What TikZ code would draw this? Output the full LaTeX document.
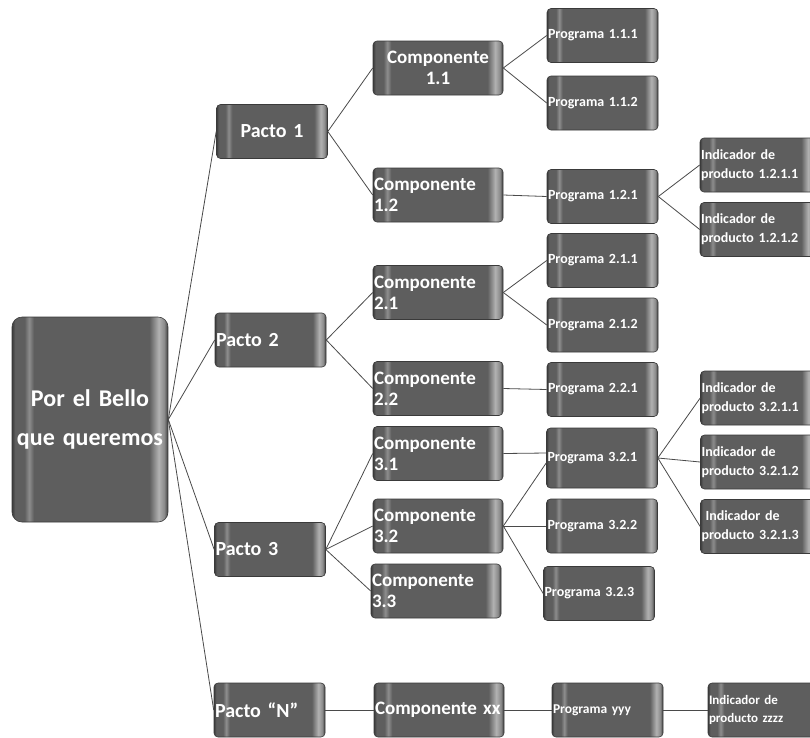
\documentclass[tikz,border=0pt]{standalone}
\usepackage{fontspec}
\setmainfont{Carlito}
\definecolor{bxedge}{HTML}{3A3A3A}
\definecolor{bxbody}{HTML}{5E5E5E}
\definecolor{bxhl}{HTML}{8E8E8E}
\definecolor{bxhr}{HTML}{B2B2B2}
\definecolor{bxhm}{HTML}{8A8A8A}
\definecolor{lnk}{HTML}{4A4A4A}
\pgfdeclarehorizontalshading{boxshade}{100bp}{color(0bp)=(bxedge); color(25bp)=(bxedge); color(26bp)=(bxbody); color(29bp)=(bxbody); color(30.5bp)=(bxhl); color(32bp)=(bxbody); color(69bp)=(bxbody); color(72bp)=(bxhr); color(73.8bp)=(bxhm); color(75bp)=(bxedge); color(100bp)=(bxedge)}
\begin{document}
\begin{tikzpicture}[x=1pt,y=-1pt,
  box/.style={rectangle, rounded corners=4pt, draw=bxedge, line width=0.6pt, shade, shading=boxshade, text=white, inner xsep=1pt, inner ysep=0pt, minimum height=54pt, align=left},
  rootbox/.style={box, text width=154pt, minimum height=205pt, align=center, rounded corners=10pt, font=\fontsize{24}{39}\selectfont\bfseries},
  pacto/.style={box, text width=109pt, font=\fontsize{20}{24}\selectfont\bfseries},
  comp/.style={box, text width=128pt, font=\fontsize{19}{21}\selectfont\bfseries},
  prog/.style={box, text width=109pt, font=\fontsize{14}{17}\selectfont\bfseries},
  ind/.style={box, text width=113pt, font=\fontsize{14}{19}\selectfont\bfseries},
  link/.style={draw=lnk, line width=0.8pt}
]
\useasboundingbox (0,0) rectangle (810,737);
\fill[white] (0,0) rectangle (810,737);
\clip (0,0) rectangle (810,737);

% root
\node[rootbox] (root) at (90,419.5) {Por el Bello\\que queremos};

% pactos
\node[pacto, align=center] (p1) at (272,131.5) {Pacto 1};
\node[pacto] (p2) at (270.5,340) {Pacto 2};
\node[pacto] (p3) at (270,549.5) {Pacto 3};
\node[pacto] (pN) at (269.5,710) {Pacto “N”};

% componentes
\node[comp, align=center] (c11) at (438,68) {Componente\\1.1};
\node[comp] (c12) at (438,195) {Componente\\1.2};
\node[comp] (c21) at (438,292.5) {Componente\\2.1};
\node[comp] (c22) at (438,388.5) {Componente\\2.2};
\node[comp] (c31) at (438,453.5) {Componente\\3.1};
\node[comp] (c32) at (438,526) {Componente\\3.2};
\node[comp] (c33) at (436,591) {Componente\\3.3};
\node[comp] (cxx) at (439,710) {Componente xx};

% programas
\node[prog] (g111) at (602.5,35.5) {Programa 1.1.1};
\node[prog] (g112) at (602.5,103) {Programa 1.1.2};
\node[prog] (g121) at (602.5,196.5) {Programa 1.2.1};
\node[prog] (g211) at (602.5,260.5) {Programa 2.1.1};
\node[prog] (g212) at (602.5,325) {Programa 2.1.2};
\node[prog] (g221) at (602.5,389.5) {Programa 2.2.1};
\node[prog, minimum height=60pt] (g321) at (602,458) {Programa 3.2.1};
\node[prog] (g322) at (602,526) {Programa 3.2.2};
\node[prog] (g323) at (599,593.5) {Programa 3.2.3};
\node[prog, font=\fontsize{13.5}{16}\selectfont\bfseries] (gyy) at (607.5,710) {Programa yyy};

% indicadores
\node[ind] (i1211) at (757.5,165) {Indicador de\\producto 1.2.1.1};
\node[ind] (i1212) at (757.5,229.5) {Indicador de\\producto 1.2.1.2};
\node[ind] (i3211) at (758,398) {Indicador de\\producto 3.2.1.1};
\node[ind] (i3212) at (758,462) {Indicador de\\producto 3.2.1.2};
\node[ind] (i3213) at (758,526.5) {\hspace*{4pt}Indicador de\\producto 3.2.1.3};
\node[ind, font=\fontsize{13}{18}\selectfont\bfseries] (izz) at (765.5,710) {Indicador de\\producto zzzz};

% connectors
\path[link] (root.east) -- (p1.west);
\path[link] (root.east) -- (p2.west);
\path[link] (root.east) -- (p3.west);
\path[link] (root.east) -- (pN.west);

\path[link] (p1.east) -- (c11.west);
\path[link] (p1.east) -- (c12.west);
\path[link] (c11.east) -- (g111.west);
\path[link] (c11.east) -- (g112.west);
\path[link] (c12.east) -- (g121.west);
\path[link] (g121.east) -- (i1211.west);
\path[link] (g121.east) -- (i1212.west);

\path[link] (p2.east) -- (c21.west);
\path[link] (p2.east) -- (c22.west);
\path[link] (c21.east) -- (g211.west);
\path[link] (c21.east) -- (g212.west);
\path[link] (c22.east) -- (g221.west);

\path[link] (p3.east) -- (c31.west);
\path[link] (p3.east) -- (c32.west);
\path[link] (p3.east) -- (c33.west);
\path[link] (c31.east) -- ([yshift=5pt]g321.west);
\path[link] (c32.east) -- ([yshift=-5pt]g321.west);
\path[link] (c32.east) -- (g322.west);
\path[link] (c32.east) -- (g323.west);
\path[link] (g321.east) -- (i3211.west);
\path[link] (g321.east) -- (i3212.west);
\path[link] (g321.east) -- (i3213.west);

\path[link] (pN.east) -- (cxx.west);
\path[link] (cxx.east) -- (gyy.west);
\path[link] (gyy.east) -- (izz.west);
\end{tikzpicture}
\end{document}
